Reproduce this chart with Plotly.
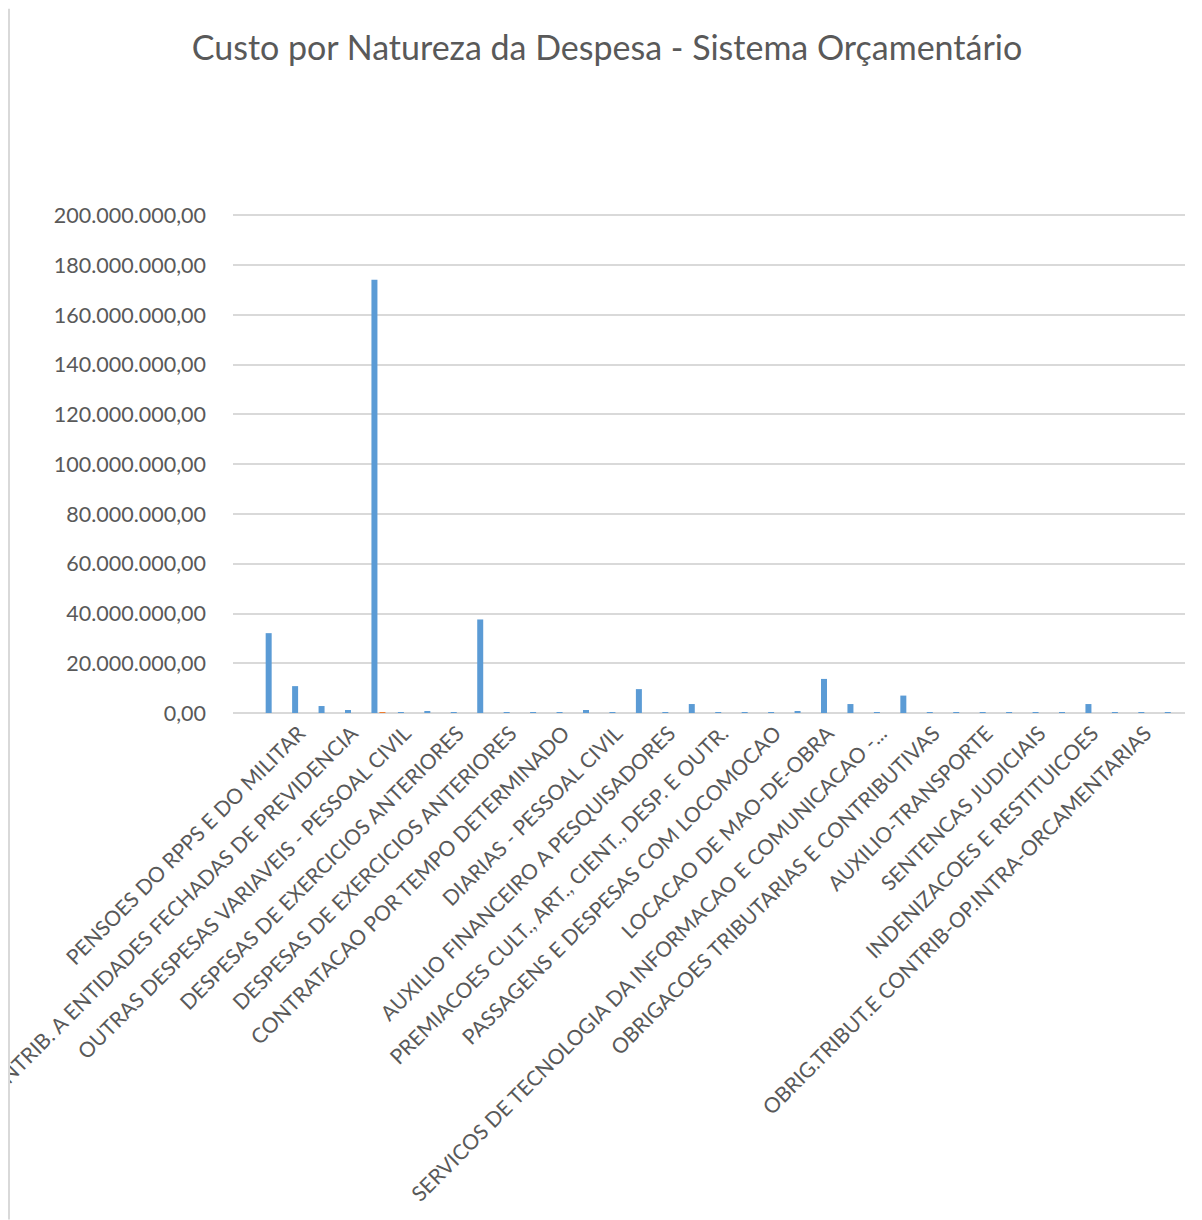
import plotly.graph_objects as go

# ---- data -------------------------------------------------------------
categories = [
    "", "", "PENSOES DO RPPS E DO MILITAR", "",
    "CONTRIB. A ENTIDADES FECHADAS DE PREVIDENCIA", "",
    "OUTRAS DESPESAS VARIAVEIS - PESSOAL CIVIL", "",
    "DESPESAS DE EXERCICIOS ANTERIORES", "",
    "DESPESAS DE EXERCICIOS ANTERIORES", "",
    "CONTRATACAO POR TEMPO DETERMINADO", "",
    "DIARIAS - PESSOAL CIVIL", "",
    "AUXILIO FINANCEIRO A PESQUISADORES", "",
    "PREMIACOES CULT., ART., CIENT., DESP. E OUTR.", "",
    "PASSAGENS E DESPESAS COM LOCOMOCAO", "",
    "LOCACAO DE MAO-DE-OBRA", "",
    "SERVICOS DE TECNOLOGIA DA INFORMACAO E COMUNICACAO -...", "",
    "OBRIGACOES TRIBUTARIAS E CONTRIBUTIVAS", "",
    "AUXILIO-TRANSPORTE", "",
    "SENTENCAS JUDICIAIS", "",
    "INDENIZACOES E RESTITUICOES", "",
    "OBRIG.TRIBUT.E CONTRIB-OP.INTRA-ORCAMENTARIAS", "",
]

serie_1 = [
    None, 32100000, 10800000, 2800000, 1200000, 174200000, 200000, 600000,
    150000, 37600000, 150000, 100000, 100000, 1200000, 100000, 9600000,
    100000, 3600000, 100000, 100000, 100000, 800000, 13700000, 3600000,
    100000, 7000000, 100000, 100000, 100000, 100000, 100000, 100000,
    3600000, 100000, 100000, 100000,
]

serie_2 = [
    None, 0, 0, 0, 0, 400000, 0, 0,
    0, 0, 0, 0, 0, 0, 0, 0,
    0, 0, 0, 0, 0, 0, 0, 0,
    0, 0, 0, 0, 0, 0, 0, 0,
    0, 0, 0, 0,
]

y_ticks = [0, 20000000, 40000000, 60000000, 80000000, 100000000,
           120000000, 140000000, 160000000, 180000000, 200000000]

# ---- figure -----------------------------------------------------------
positions = list(range(len(categories)))
tick_positions = [i for i, c in enumerate(categories) if c]
tick_texts = [c for c in categories if c]

GREY = "#595959"
FONT = "Lato"

fig = go.Figure()
fig.add_trace(go.Bar(x=positions, y=serie_1, marker_color="#5B9BD5",
                     marker_line_width=0, name="Série 1"))
fig.add_trace(go.Bar(x=positions, y=serie_2, marker_color="#ED7D31",
                     marker_line_width=0, name="Série 2"))

OFF = 8  # page body margin
W, H = 1202 - OFF, 1220 - OFF
L, R, B = 233 - OFF, 1185 - OFF, 713 - OFF
Y_TOP_PX = 215 - OFF                 # pixel of the 200M gridline
Y_MAX = 201000000                    # slight headroom so the top gridline shows
PX_PER_UNIT = (B - Y_TOP_PX) / 200000000
T = B - Y_MAX * PX_PER_UNIT

fig.update_layout(
    template="none",
    width=W, height=H,
    margin=dict(l=L, r=W - R, t=T, b=H - B, pad=0),
    paper_bgcolor="white", plot_bgcolor="white",
    barmode="group", bargap=0.395, bargroupgap=0.25,
    showlegend=False,
    separators=",.",
    font=dict(family=FONT, color=GREY, size=20),
    title=dict(text="Custo por Natureza da Despesa - Sistema Orçamentário",
               x=(607 - OFF) / W, xanchor="center", xref="container",
               y=1 - (48 - OFF) / H, yanchor="middle", yref="container",
               font=dict(family=FONT, size=34, color=GREY)),
    xaxis=dict(
        range=[-0.5, len(categories) - 0.5],
        tickmode="array", tickvals=tick_positions, ticktext=tick_texts,
        tickangle=-45, showgrid=False, zeroline=False, showline=False,
        ticks="", automargin=False, ticklabelstandoff=3,
        ticklabeloverflow="allow",
        tickfont=dict(family=FONT, size=21, color=GREY),
    ),
    yaxis=dict(
        range=[0, Y_MAX],
        tickmode="array", tickvals=y_ticks, tickformat=",.2f",
        showgrid=True, gridcolor="#D9D9D9", gridwidth=1.5,
        zeroline=True, zerolinecolor="#D9D9D9", zerolinewidth=1.5,
        showline=False, ticks="", automargin=False,
        ticklabelstandoff=26, ticklabeloverflow="allow",
        tickfont=dict(family=FONT, size=21.5, color=GREY),
    ),
    shapes=[dict(type="line", xref="paper", yref="paper",
                 x0=(1 - L) / (R - L), x1=(1 - L) / (R - L),
                 y0=-(H - B) / (B - T), y1=B / (B - T),
                 line=dict(color="#D9D9D9", width=2))],
)

fig.write_html("out.html")
